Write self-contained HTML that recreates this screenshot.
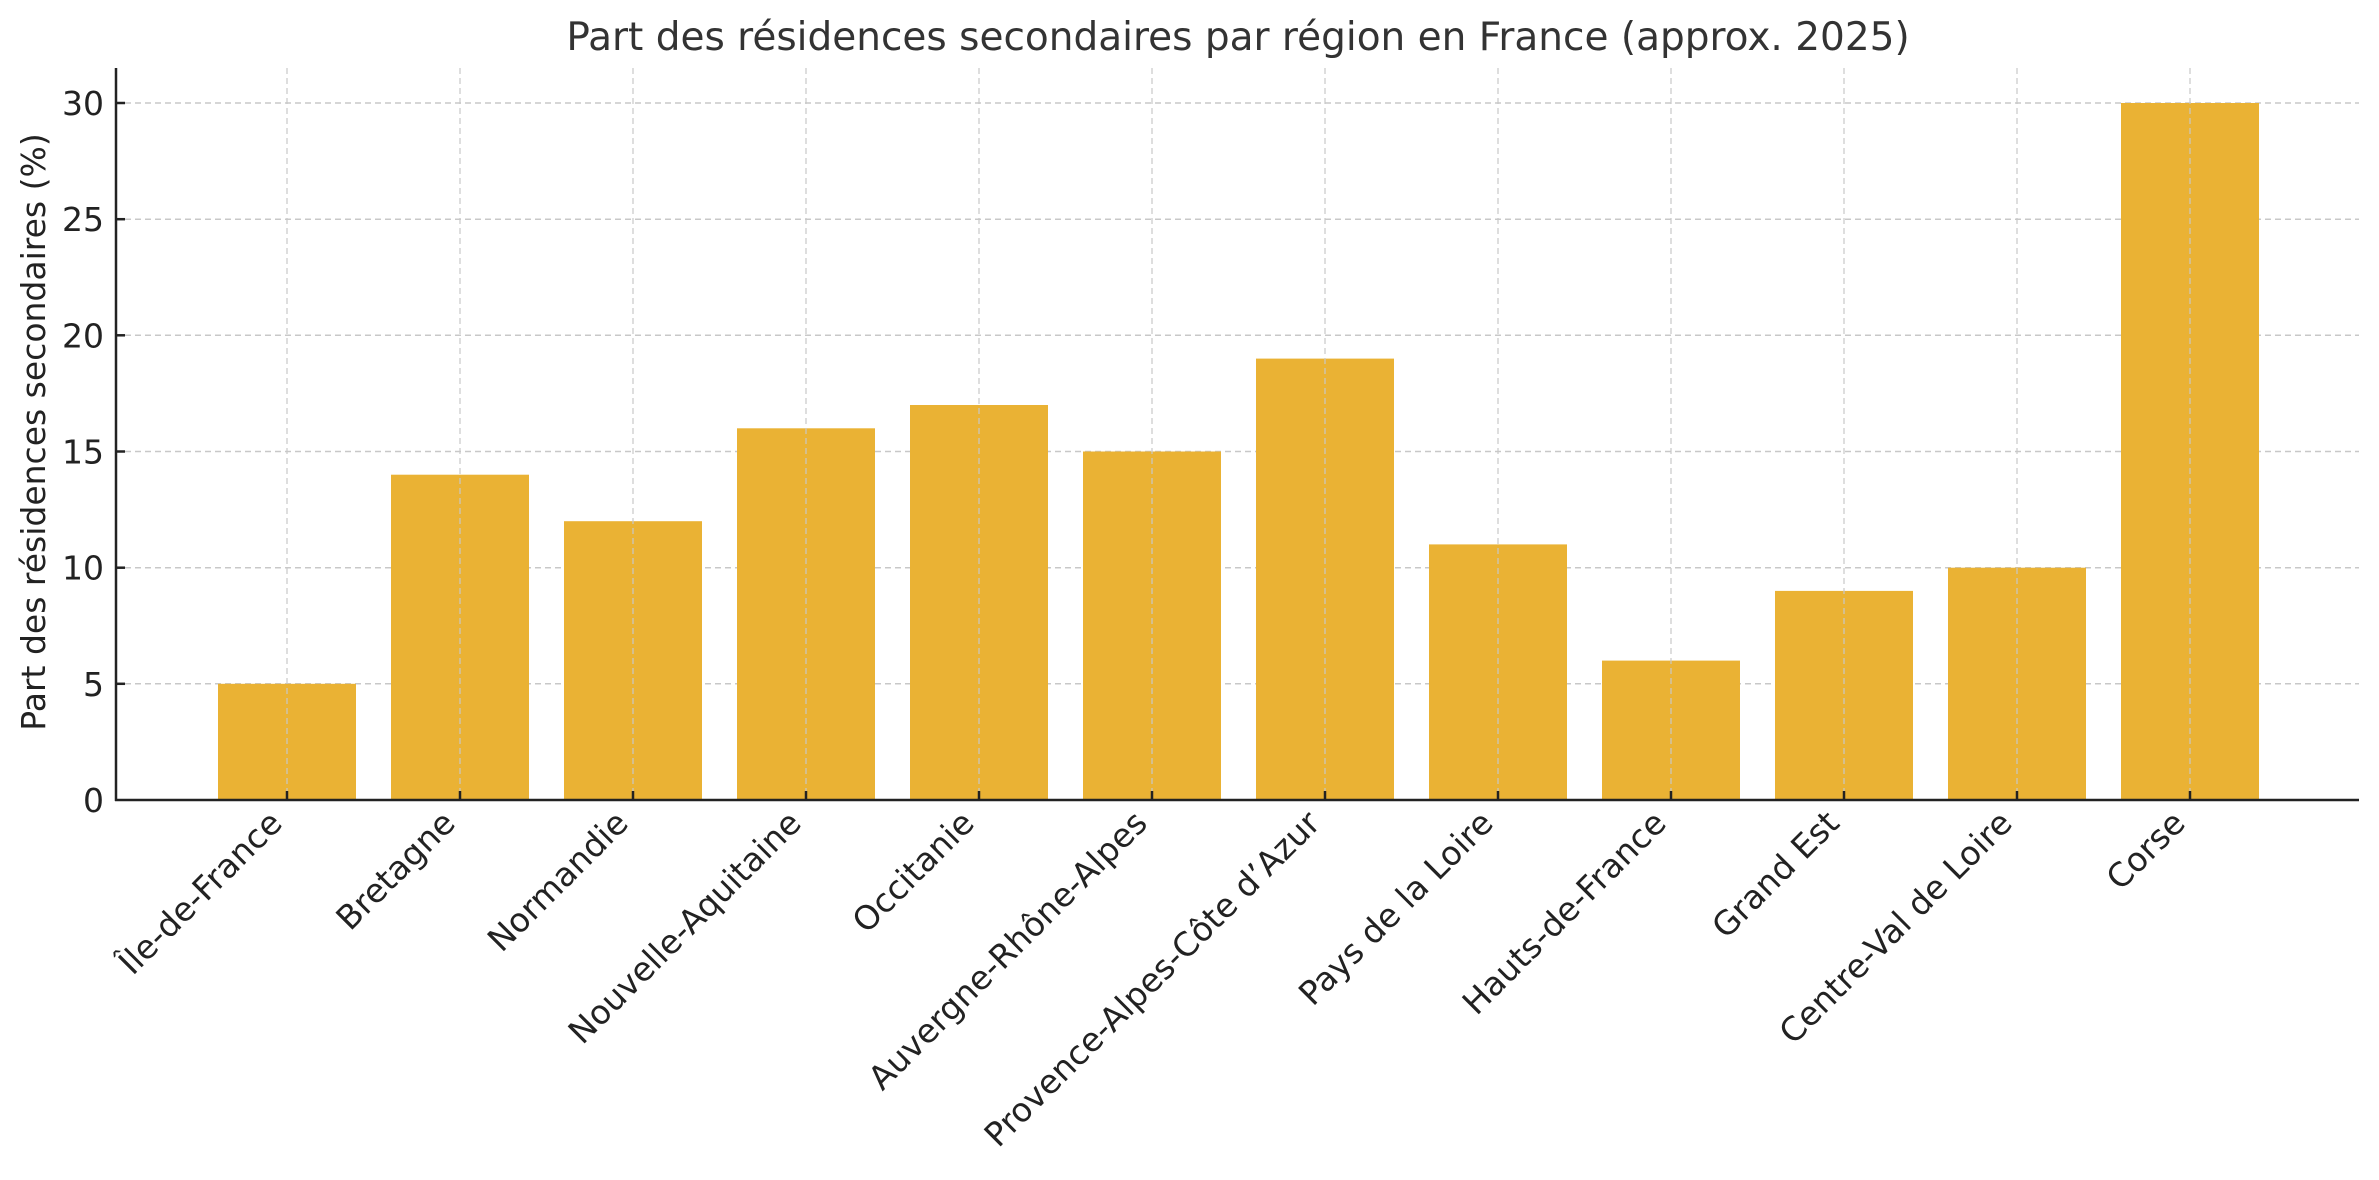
<!DOCTYPE html>
<html><head><meta charset="utf-8"><style>body{margin:0;background:#fff}svg{display:block}</style></head>
<body>
<svg width="2379" height="1180" xmlns="http://www.w3.org/2000/svg" font-family="'DejaVu Sans','Liberation Sans',sans-serif">
<rect width="2379" height="1180" fill="#fff"/>
<text x="1238" y="50" font-size="39" fill="#333" text-anchor="middle">Part des résidences secondaires par région en France (approx. 2025)</text>
<g id="grid" stroke="#c8c8c8" stroke-width="1.5" stroke-dasharray="6,4">
<line x1="115" x2="2359" y1="683.8" y2="683.8"/>
<line x1="115" x2="2359" y1="567.7" y2="567.7"/>
<line x1="115" x2="2359" y1="451.5" y2="451.5"/>
<line x1="115" x2="2359" y1="335.3" y2="335.3"/>
<line x1="115" x2="2359" y1="219.2" y2="219.2"/>
<line x1="115" x2="2359" y1="103" y2="103"/>
</g>
<g fill="#EAB234">
<rect x="218" y="683.8" width="138" height="116.2"/>
<rect x="391" y="474.7" width="138" height="325.3"/>
<rect x="564" y="521.2" width="138" height="278.8"/>
<rect x="737" y="428.3" width="138" height="371.7"/>
<rect x="910" y="405" width="138" height="395"/>
<rect x="1083" y="451.5" width="138" height="348.5"/>
<rect x="1256" y="358.6" width="138" height="441.4"/>
<rect x="1429" y="544.4" width="138" height="255.6"/>
<rect x="1602" y="660.6" width="138" height="139.4"/>
<rect x="1775" y="590.9" width="138" height="209.1"/>
<rect x="1948" y="567.7" width="138" height="232.3"/>
<rect x="2121" y="103" width="138" height="697"/>
</g>
<g stroke="#c8c8c8" stroke-width="1.5" stroke-dasharray="6,4" opacity="0.8">
<line x1="287" x2="287" y1="68" y2="800"/><line x1="460" x2="460" y1="68" y2="800"/><line x1="633" x2="633" y1="68" y2="800"/><line x1="806" x2="806" y1="68" y2="800"/><line x1="979" x2="979" y1="68" y2="800"/><line x1="1152" x2="1152" y1="68" y2="800"/><line x1="1325" x2="1325" y1="68" y2="800"/><line x1="1498" x2="1498" y1="68" y2="800"/><line x1="1671" x2="1671" y1="68" y2="800"/><line x1="1844" x2="1844" y1="68" y2="800"/><line x1="2017" x2="2017" y1="68" y2="800"/><line x1="2190" x2="2190" y1="68" y2="800"/>
</g>
<g stroke="#222" stroke-width="2.5">
<line x1="116" x2="116" y1="68" y2="801"/>
<line x1="115" x2="2359" y1="800" y2="800"/>
<line x1="116" x2="125" y1="683.8" y2="683.8"/><line x1="116" x2="125" y1="567.7" y2="567.7"/><line x1="116" x2="125" y1="451.5" y2="451.5"/><line x1="116" x2="125" y1="335.3" y2="335.3"/><line x1="116" x2="125" y1="219.2" y2="219.2"/><line x1="116" x2="125" y1="103" y2="103"/>
<line x1="287" x2="287" y1="800" y2="791"/><line x1="460" x2="460" y1="800" y2="791"/><line x1="633" x2="633" y1="800" y2="791"/><line x1="806" x2="806" y1="800" y2="791"/><line x1="979" x2="979" y1="800" y2="791"/><line x1="1152" x2="1152" y1="800" y2="791"/><line x1="1325" x2="1325" y1="800" y2="791"/><line x1="1498" x2="1498" y1="800" y2="791"/><line x1="1671" x2="1671" y1="800" y2="791"/><line x1="1844" x2="1844" y1="800" y2="791"/><line x1="2017" x2="2017" y1="800" y2="791"/><line x1="2190" x2="2190" y1="800" y2="791"/>
</g>
<g font-size="33" fill="#222" text-anchor="end">
<text x="104" y="812">0</text><text x="104" y="695.8">5</text><text x="104" y="579.7">10</text><text x="104" y="463.5">15</text><text x="104" y="347.3">20</text><text x="104" y="231.2">25</text><text x="104" y="115">30</text>
</g>
<text transform="translate(45,432) rotate(-90)" font-size="33" fill="#222" text-anchor="middle">Part des résidences secondaires (%)</text>
<g font-size="33" fill="#222" text-anchor="end">
<text transform="translate(284,825) rotate(-45)">Île-de-France</text>
<text transform="translate(457,825) rotate(-45)">Bretagne</text>
<text transform="translate(630,825) rotate(-45)">Normandie</text>
<text transform="translate(803,825) rotate(-45)">Nouvelle-Aquitaine</text>
<text transform="translate(976,825) rotate(-45)">Occitanie</text>
<text transform="translate(1149,825) rotate(-45)">Auvergne-Rhône-Alpes</text>
<text transform="translate(1322,825) rotate(-45)">Provence-Alpes-Côte d’Azur</text>
<text transform="translate(1495,825) rotate(-45)">Pays de la Loire</text>
<text transform="translate(1668,825) rotate(-45)">Hauts-de-France</text>
<text transform="translate(1841,825) rotate(-45)">Grand Est</text>
<text transform="translate(2014,825) rotate(-45)">Centre-Val de Loire</text>
<text transform="translate(2187,825) rotate(-45)">Corse</text>
</g>
</svg>
</body></html>
